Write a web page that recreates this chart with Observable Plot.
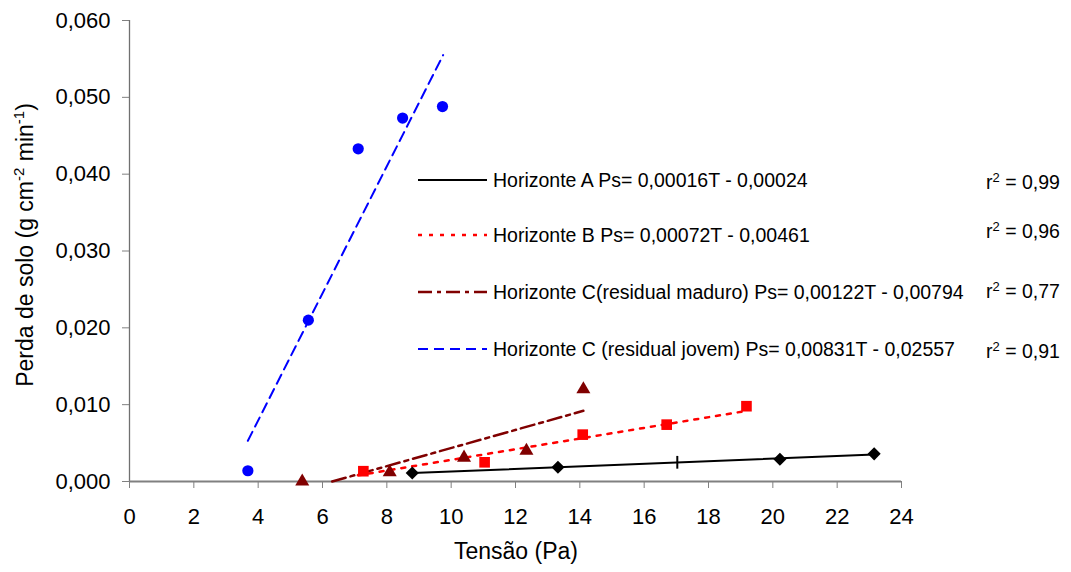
<!DOCTYPE html>
<html>
<head>
<meta charset="utf-8">
<script src="https://cdn.jsdelivr.net/npm/d3@7"></script>
<script src="https://cdn.jsdelivr.net/npm/@observablehq/plot@0.6"></script>
<style>
  html, body { margin:0; padding:0; background:#fff; }
  #wrap { position:relative; width:1071px; height:572px; font-family:"Liberation Sans", Arial, sans-serif; color:#000; }
  .row { position:absolute; height:24px; display:flex; align-items:center; font-size:19.5px; white-space:nowrap; }
  .row svg { margin-right:6px; }
  .r2 { position:absolute; font-size:19.5px; white-space:nowrap; line-height:24px; }
  .r2 sup { font-size:13px; vertical-align:0; position:relative; top:-7px; }
</style>
</head>
<body>
<div id="wrap"></div>
<script>
// ---- data ----
const xTicks = [0, 2, 4, 6, 8, 10, 12, 14, 16, 18, 20, 22, 24];
const yTicks = [0, 0.01, 0.02, 0.03, 0.04, 0.05, 0.06];

// Horizonte A (black diamonds)
const hA_T = [8.79, 13.32, 20.22, 23.15];
const hA_P = [0.0011, 0.00186, 0.0029, 0.0036];
// Horizonte B (red squares)
const hB_T = [7.27, 11.04, 14.09, 16.7, 19.18];
const hB_P = [0.00134, 0.0025, 0.0061, 0.0074, 0.0098];
// Horizonte C residual maduro (dark red triangles)
const hCm_T = [5.37, 8.09, 10.4, 12.34, 14.11];
const hCm_P = [0.0, 0.0012, 0.0031, 0.0040, 0.0120];
// Horizonte C residual jovem (blue circles)
const hCj_T = [3.68, 5.56, 7.11, 8.49, 9.73];
const hCj_P = [0.0014, 0.021, 0.0433, 0.0473, 0.0488];

// trend line end points
const trA_T = [8.79, 23.15],  trA_P = [0.0011, 0.0035];
const trB_T = [7.1, 19.2],    trB_P = [0.0008, 0.0092];
const trCm_T = [6.3, 14.11],  trCm_P = [0.0, 0.0092];
const trCj_T = [3.68, 9.75],  trCj_P = [0.0053, 0.0555];
// small vertical tick drawn on the black line
const markA_T = [17.03], markA_P = [0.0025];

const legendLabels = [
  "Horizonte A Ps= 0,00016T - 0,00024",
  "Horizonte B Ps= 0,00072T - 0,00461",
  "Horizonte C(residual maduro) Ps= 0,00122T - 0,00794",
  "Horizonte C (residual jovem) Ps= 0,00831T - 0,02557"
];
const r2Labels = ["0,99", "0,96", "0,77", "0,91"];

const colors = ["#000000", "#FF0000", "#800000", "#0000FF"];
const dashes = [null, "4,7", "14,5,4,5", "10,6"];
const widths = [2, 2.5, 2.5, 2];

const tbl = (T, P) => T.map((t, i) => ({T: t, P: P[i]}));

const tickSym = {
  draw(ctx, size) {
    const h = Math.sqrt(size);
    ctx.moveTo(0, -h / 2);
    ctx.lineTo(0, h / 2);
  }
};

const fmt = d => d.toFixed(3).replace(".", ",");

const plot = Plot.plot({
  width: 1071,
  height: 572,
  marginLeft: 129,
  marginRight: 170,
  marginTop: 20,
  marginBottom: 91,
  style: { fontFamily: "'Liberation Sans', Arial, sans-serif", background: "#fff", color: "#000" },
  x: { domain: [0, 24] },
  y: { domain: [0, 0.06] },
  marks: [
    Plot.axisX({ ticks: xTicks, tickSize: 7, tickPadding: 20, fontSize: 22, stroke: "#808080", label: null, tickFormat: d => String(d) }),
    Plot.axisY({ ticks: yTicks, tickSize: 7, tickPadding: 12, fontSize: 22, stroke: "#808080", label: null, tickFormat: fmt }),
    Plot.ruleX([0], { stroke: "#707070", strokeWidth: 1.3 }),
    Plot.ruleY([0], { stroke: "#808080", strokeWidth: 1.8 }),
    Plot.line(tbl(trA_T, trA_P), { x: "T", y: "P", stroke: colors[0], strokeWidth: widths[0] }),
    Plot.line(tbl(trB_T, trB_P), { x: "T", y: "P", stroke: colors[1], strokeWidth: widths[1], strokeDasharray: dashes[1] }),
    Plot.line(tbl(trCm_T, trCm_P), { x: "T", y: "P", stroke: colors[2], strokeWidth: widths[2], strokeDasharray: dashes[2] }),
    Plot.line(tbl(trCj_T, trCj_P), { x: "T", y: "P", stroke: colors[3], strokeWidth: widths[3], strokeDasharray: dashes[3] }),
    Plot.dot(tbl(markA_T, markA_P), { x: "T", y: "P", symbol: tickSym, r: 7.2, stroke: "#000", fill: "none", strokeWidth: 2 }),
    Plot.dot(tbl(hA_T, hA_P), { x: "T", y: "P", symbol: "diamond2", r: 5.9, fill: colors[0], stroke: "none" }),
    Plot.dot(tbl(hB_T, hB_P), { x: "T", y: "P", symbol: "square", r: 6, fill: colors[1], stroke: "none" }),
    Plot.dot(tbl(hCm_T, hCm_P), { x: "T", y: "P", symbol: "triangle", r: 5.2, fill: colors[2], stroke: "none" }),
    Plot.dot(tbl(hCj_T, hCj_P), { x: "T", y: "P", symbol: "circle", r: 5.6, fill: colors[3], stroke: "none" })
  ]
});

const wrap = document.getElementById("wrap");
wrap.appendChild(plot);

// axis titles
const svg = d3.select(plot);
svg.append("text")
  .attr("x", 516).attr("y", 559)
  .attr("text-anchor", "middle")
  .attr("font-size", 23)
  .attr("fill", "#000")
  .text("Tensão (Pa)");

const yt = svg.append("text")
  .attr("transform", "translate(33,245) rotate(-90)")
  .attr("text-anchor", "middle")
  .attr("font-size", 23)
  .attr("fill", "#000");
yt.append("tspan").text("Perda de solo (g cm");
yt.append("tspan").attr("dy", -9).attr("font-size", 15).text("-2");
yt.append("tspan").attr("dy", 9).text(" min");
yt.append("tspan").attr("dy", -9).attr("font-size", 15).text("-1");
yt.append("tspan").attr("dy", 9).text(")");

// legend (inside plot area)
const rowCenters = [180, 235, 292, 349];
const r2Centers = [182, 231, 291, 351];
legendLabels.forEach((lab, i) => {
  const row = document.createElement("div");
  row.className = "row";
  row.style.left = "418px";
  row.style.top = (rowCenters[i] - 12) + "px";
  const s = d3.create("svg").attr("width", 69).attr("height", 10);
  s.append("line").attr("x1", 0).attr("x2", 69).attr("y1", 5).attr("y2", 5)
    .attr("stroke", colors[i]).attr("stroke-width", widths[i])
    .attr("stroke-dasharray", dashes[i]);
  row.appendChild(s.node());
  const t = document.createElement("span");
  t.textContent = lab;
  row.appendChild(t);
  wrap.appendChild(row);

  const r = document.createElement("div");
  r.className = "r2";
  r.style.left = "986px";
  r.style.top = (r2Centers[i] - 12) + "px";
  r.innerHTML = "r<sup>2</sup> = " + r2Labels[i];
  wrap.appendChild(r);
});
</script>
</body>
</html>
